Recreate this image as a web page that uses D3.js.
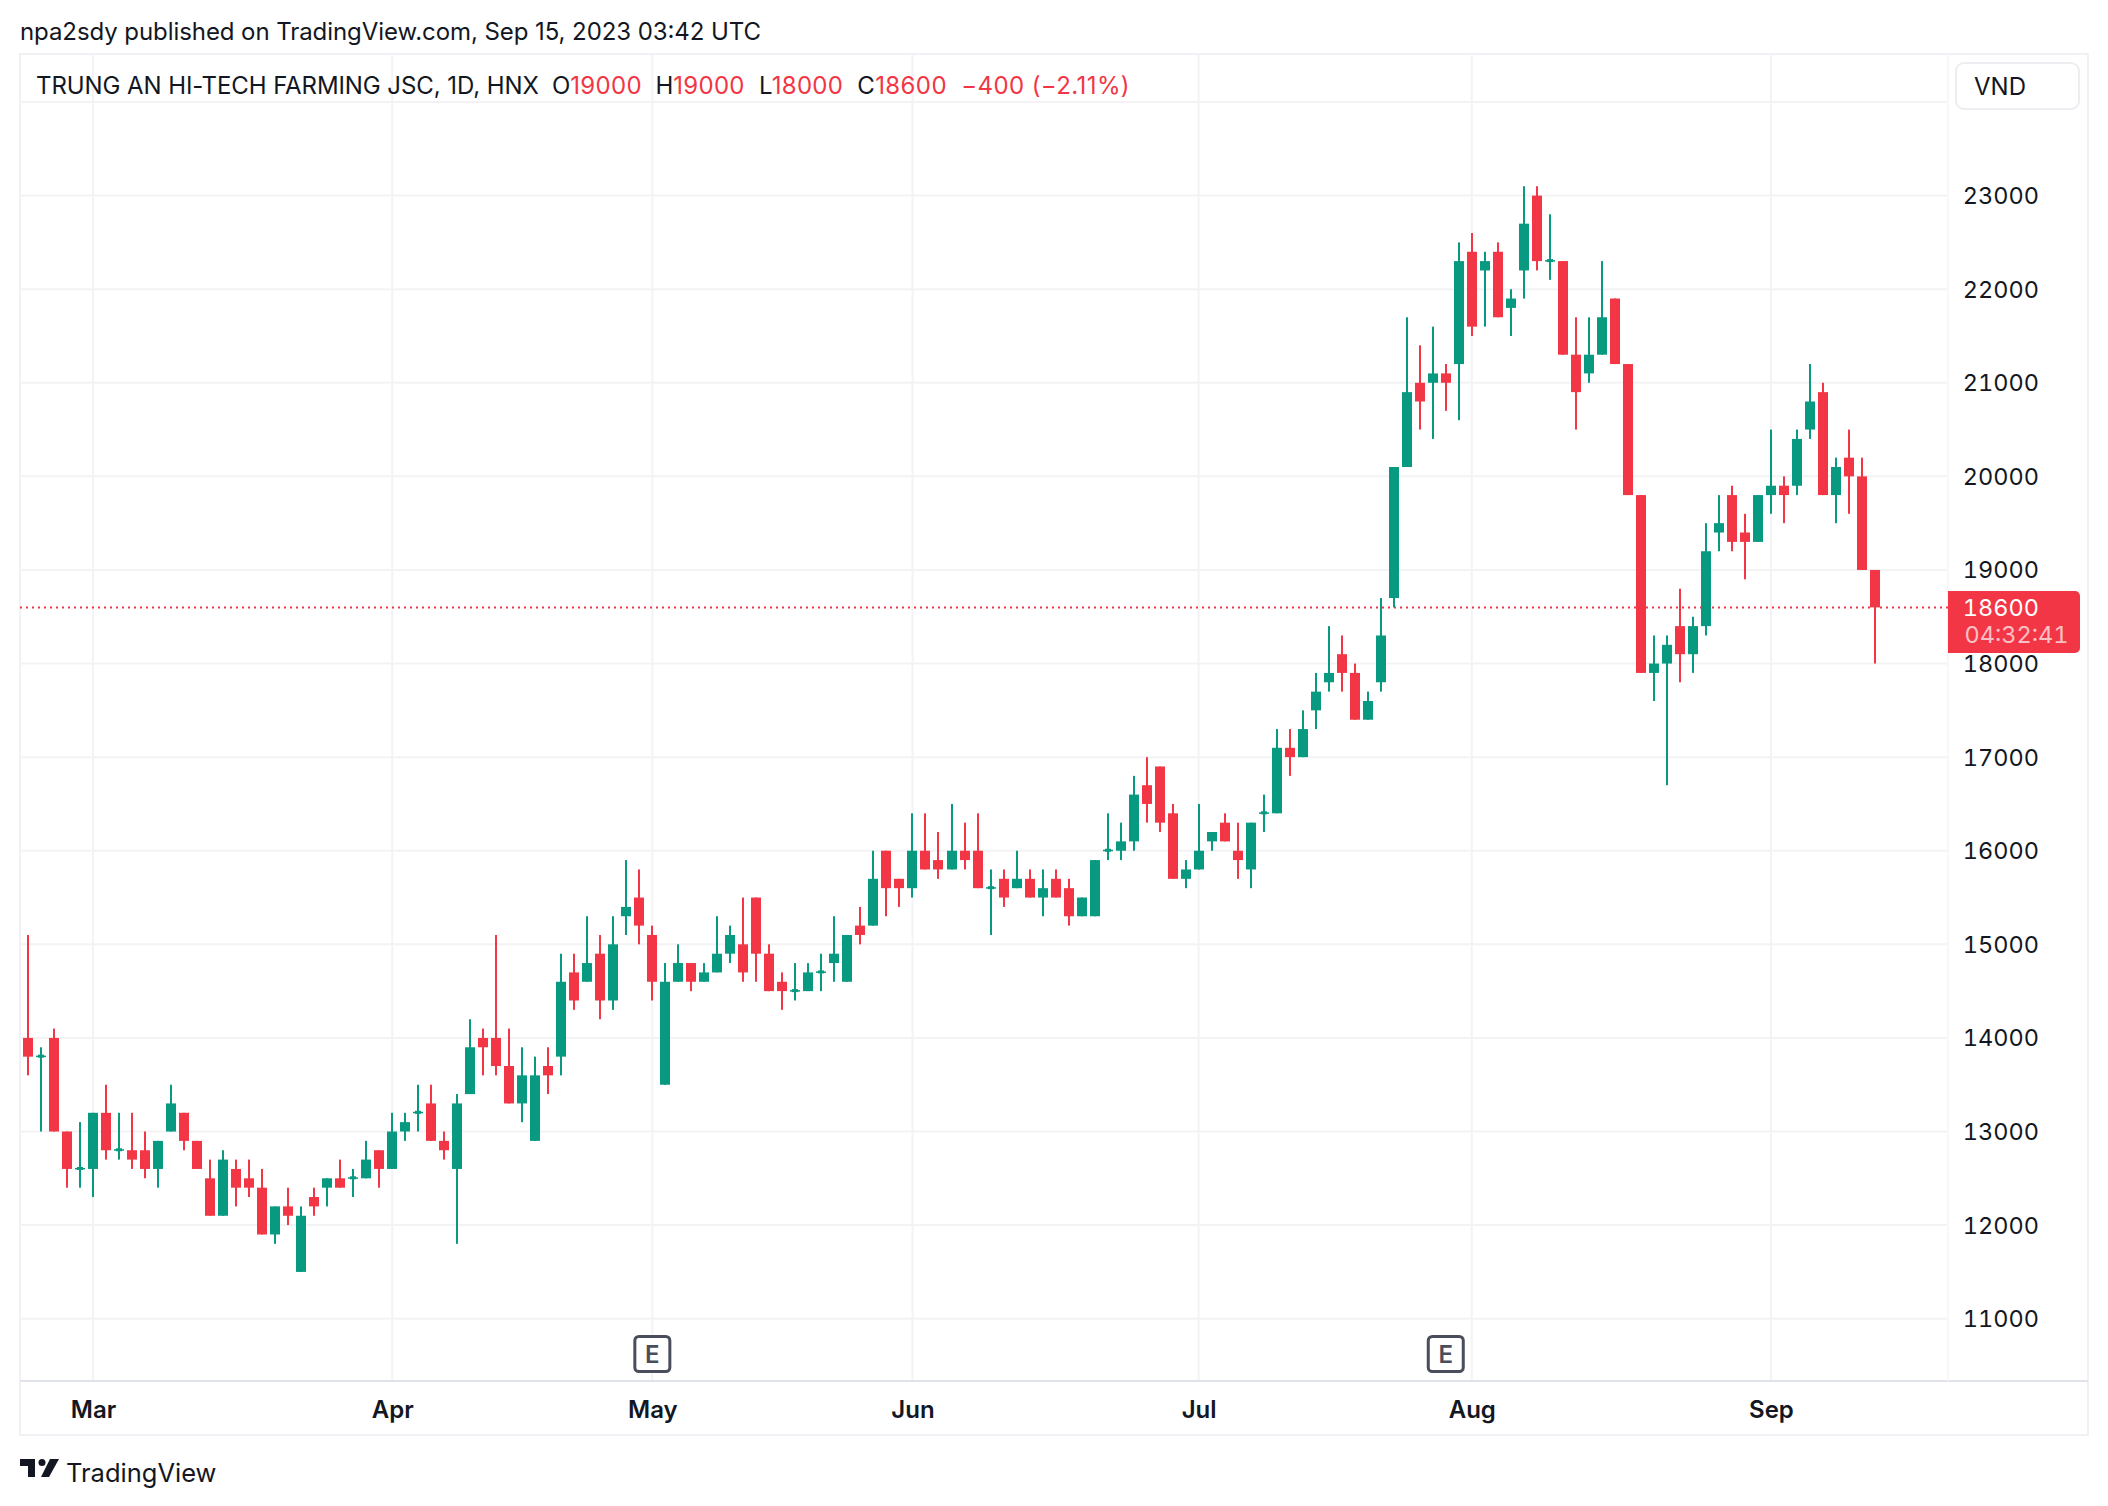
<!DOCTYPE html>
<html>
<head>
<meta charset="utf-8">
<style>
html, body { margin: 0; padding: 0; background: #fff; }
svg { display: block; }
text { font-family: Inter, sans-serif; fill: #131722; }
.grid line { stroke: #f3f3f6; stroke-width: 2px; }
.y-axis text { font-size: 23.5px; text-anchor: end; font-variant-numeric: tabular-nums; }
.x-axis text { font-size: 24px; font-weight: 600; }
.legend { font-size: 24px; }
</style>
</head>
<body>
<script src="https://cdn.jsdelivr.net/npm/d3@7"></script>
<script>
// values, one entry per trading day
var opens = [14000,13800,14000,13000,12600,12600,13200,12800,12800,12800,12600,13000,13200,12900,12500,12100,12600,12500,12400,11900,12200,11500,12300,12400,12500,12500,12500,12800,12600,13000,13200,13300,12900,12600,13400,14000,14000,
  13700,13300,12900,13700,13800,14700,14600,14900,14400,15300,15500,15100,13500,14600,14800,14600,14700,14900,15000,15500,14900,14600,14500,14500,14700,14800,14600,15200,15200,16000,15700,15600,16000,15900,
  15800,16000,16000,15600,15700,15600,15700,15500,15700,15600,15300,15300,16000,16000,16100,16700,16900,16400,15700,15800,16100,16300,16000,15800,16400,16400,17100,17000,17500,17800,18100,17900,17400,17800,
  18700,20100,21000,21000,21100,21200,22400,22200,22400,21800,22200,23000,22300,22300,21300,21100,21300,21900,21200,19800,17900,18000,18400,18100,18400,19400,19800,19400,19300,19800,19900,19900,20500,20900,19800,20200,20000,19000];
var closes = [13800,13800,13000,12600,12600,13200,12800,12800,12700,12600,12900,13300,12900,12600,12100,12700,12400,12400,11900,12200,12100,12100,12200,12500,12400,12500,12700,12600,13000,13100,13200,12900,12800,13300,13900,13900,13700,
  13300,13600,13600,13600,14600,14400,14800,14400,15000,15400,15200,14600,14600,14800,14600,14700,14900,15100,14700,14900,14500,14500,14500,14700,14700,14900,15100,15100,15700,15600,15600,16000,15800,15800,
  16000,15900,15600,15600,15500,15700,15500,15600,15500,15300,15500,15900,16000,16100,16600,16500,16300,15700,15800,16000,16200,16100,15900,16300,16400,17100,17000,17300,17700,17900,17900,17400,17600,18300,
  20100,20900,20800,21100,21000,22300,21600,22300,21700,21900,22700,22300,22300,21300,20900,21300,21700,21200,19800,17900,18000,18200,18100,18400,19200,19500,19300,19300,19800,19900,19800,20400,20800,19800,20100,20000,19000,18600];
var highs = [15100,13900,14100,13000,13100,13200,13500,13200,13200,13000,12900,13500,13200,12900,12700,12800,12700,12700,12600,12200,12400,12200,12400,12500,12700,12600,12900,12800,13200,13200,13500,13500,13000,13400,14200,14100,15100,
  14100,13900,13800,13900,14900,14900,15300,15100,15300,15900,15800,15200,14800,15000,14800,14800,15300,15200,15500,15500,15000,14700,14800,14800,14900,15300,15100,15400,16000,16000,15700,16400,16400,16200,
  16500,16300,16400,15800,15800,16000,15800,15800,15800,15700,15500,15900,16400,16300,16800,17000,16900,16500,15900,16500,16200,16400,16300,16300,16600,17300,17300,17500,17900,18400,18300,18000,17700,18700,
  20100,21700,21400,21600,21200,22500,22600,22400,22500,22000,23100,23100,22800,22300,21700,21700,22300,21900,21200,19800,18300,18300,18800,18500,19500,19800,19900,19600,19800,20500,20000,20500,21200,21000,20200,20500,20200,19000];
var lows = [13600,13000,13000,12400,12400,12300,12700,12700,12600,12500,12400,13000,12800,12600,12100,12100,12200,12300,11900,11800,12000,11500,12100,12200,12400,12300,12500,12400,12600,12900,13000,12900,12700,11800,13400,13600,13600,
  13300,13100,12900,13400,13600,14300,14600,14200,14300,15100,15000,14400,13500,14600,14500,14600,14700,14800,14600,14600,14500,14300,14400,14500,14500,14600,14600,15000,15200,15300,15400,15500,15800,15700,
  15800,15800,15600,15100,15400,15600,15500,15300,15500,15200,15300,15300,15900,15900,16000,16300,16200,15700,15600,15800,16000,16100,15700,15600,16200,16400,16800,17000,17300,17700,17700,17400,17400,17700,
  18600,20100,20500,20400,20700,20600,21500,21600,21700,21500,21900,22200,22100,21300,20500,21000,21300,21200,19800,17900,17600,16700,17800,17900,18300,19200,19200,18900,19300,19600,19500,19800,20400,19800,19500,19600,19000,18000];

var priceTicks = [11000,12000,13000,14000,15000,16000,17000,18000,19000,20000,21000,22000,23000,24000];
var monthIndex = [5,28,48,68,90,111,134];
var monthNames = ["Mar","Apr","May","Jun","Jul","Aug","Sep"];
var earningsIndex = [48,109];

var width = 2108, height = 1506;
var up = "#089981", down = "#f23645";
var paneLeft = 20, paneRight = 1948, paneTop = 54, paneBottom = 1381;
var frameRight = 2088, frameBottom = 1435;
var barWidth = 10;

var x = d3.scaleLinear().domain([0, opens.length - 1]).range([28, 1875]);
var y = d3.scaleLinear().domain([11000, 24000]).range([1318.7, 102]);

var svg = d3.select("body").append("svg")
    .attr("width", width)
    .attr("height", height);

// frame around the chart
svg.append("rect")
    .attr("x", paneLeft).attr("y", paneTop)
    .attr("width", frameRight - paneLeft).attr("height", frameBottom - paneTop)
    .attr("fill", "none").attr("stroke", "#f0f1f5").attr("stroke-width", 2);

// grid
var grid = svg.append("g").attr("class", "grid");
grid.selectAll(".h").data(priceTicks).enter().append("line")
    .attr("x1", paneLeft).attr("x2", paneRight)
    .attr("y1", function(d) { return y(d); })
    .attr("y2", function(d) { return y(d); });
grid.selectAll(".v").data(monthIndex).enter().append("line")
    .attr("y1", paneTop).attr("y2", paneBottom)
    .attr("x1", function(d) { return x(d); })
    .attr("x2", function(d) { return x(d); });

// pane borders
svg.append("line").attr("x1", paneLeft).attr("x2", frameRight).attr("y1", paneBottom).attr("y2", paneBottom)
    .attr("stroke", "#e0e3eb").attr("stroke-width", 2);
svg.append("line").attr("x1", paneRight).attr("x2", paneRight).attr("y1", paneTop).attr("y2", paneBottom)
    .attr("stroke", "#f7f7f9").attr("stroke-width", 2);

// axes
var yAxis = d3.axisRight(y).tickValues(priceTicks.slice(0, 13)).tickSize(0).tickPadding(0).tickFormat(d3.format("d"));
svg.append("g").attr("class", "y-axis").attr("transform", "translate(2039,0.5)").call(yAxis)
    .call(function(g) { g.select(".domain").remove(); });

var xAxis = d3.axisBottom(x).tickValues(monthIndex).tickSize(0).tickPadding(0)
    .tickFormat(function(d, i) { return monthNames[i]; });
svg.append("g").attr("class", "x-axis").attr("transform", "translate(0,1401)").call(xAxis)
    .call(function(g) { g.select(".domain").remove(); });

// last price line
svg.append("line")
    .attr("x1", paneLeft).attr("x2", paneRight)
    .attr("y1", y(closes[closes.length - 1])).attr("y2", y(closes[closes.length - 1]))
    .attr("stroke", down).attr("stroke-width", 2).attr("stroke-dasharray", "2,4");

// candles
var days = d3.range(opens.length);
function colorOf(i) { return closes[i] >= opens[i] ? up : down; }

svg.append("g").selectAll("rect").data(days).enter().append("rect")
    .attr("x", function(i) { return Math.round(x(i)) - 1; })
    .attr("width", 2)
    .attr("y", function(i) { return y(highs[i]); })
    .attr("height", function(i) { return y(lows[i]) - y(highs[i]); })
    .attr("fill", colorOf);

svg.append("g").selectAll("rect").data(days).enter().append("rect")
    .attr("x", function(i) { return Math.round(x(i)) - barWidth / 2; })
    .attr("width", barWidth)
    .attr("y", function(i) { return opens[i] == closes[i] ? y(opens[i]) - 1 : y(Math.max(opens[i], closes[i])); })
    .attr("height", function(i) { return opens[i] == closes[i] ? 1.5 : Math.abs(y(opens[i]) - y(closes[i])); })
    .attr("fill", colorOf);

// thick centre of the doji candles
svg.append("g").selectAll("rect").data(days.filter(function(i) { return opens[i] == closes[i]; })).enter().append("rect")
    .attr("x", function(i) { return Math.round(x(i)) - 3; })
    .attr("width", 6)
    .attr("y", function(i) { return y(opens[i]) - 2; })
    .attr("height", 3)
    .attr("fill", colorOf);

// earnings markers
var marks = svg.append("g").selectAll("g").data(earningsIndex).enter().append("g")
    .attr("transform", function(d) { return "translate(" + x(d) + ",1354)"; });
marks.append("rect")
    .attr("x", -17.5).attr("y", -17.5).attr("width", 35).attr("height", 35).attr("rx", 4)
    .attr("fill", "#fff").attr("stroke", "#4a4e5c").attr("stroke-width", 3);
marks.append("text")
    .attr("text-anchor", "middle").attr("y", 9)
    .style("font-size", "24px").style("font-weight", 600).style("fill", "#4a4e5c")
    .text("E");

// price label
var labelY = 591;
svg.append("path")
    .attr("d", "M1948," + labelY + "H2075a5,5 0 0 1 5,5V648a5,5 0 0 1 -5,5H1948Z")
    .attr("fill", down);
svg.append("text").attr("x", 2039).attr("y", 616).attr("text-anchor", "end").style("font-size", "23.5px").style("font-variant-numeric", "tabular-nums").style("fill", "#fff").text("18600");
svg.append("text").attr("x", 1964.5).attr("y", 643).style("font-size", "23.5px").style("font-variant-numeric", "tabular-nums").style("fill", "#fff").style("fill-opacity", 0.7).text("04:32:41");

// header
svg.append("text").attr("class", "legend").attr("x", 20).attr("y", 40).attr("textLength", 741).text("npa2sdy published on TradingView.com, Sep 15, 2023 03:42 UTC");

var legend = svg.append("text").attr("class", "legend").attr("x", 36).attr("y", 94);
var parts = [["TRUNG AN HI-TECH FARMING JSC, 1D, HNX  O", 0, -0.08], ["19000", 1, 0.3], ["  H", 0, 0], ["19000", 1, 0.3], ["  L", 0, 0.3], ["18000", 1, 0.3], ["  C", 0, 0.3], ["18600", 1, 0.4], ["  \u2212400 (\u22122.11%)", 1, 0.4]];
parts.forEach(function(p) {
  legend.append("tspan").attr("xml:space", "preserve").style("white-space", "pre")
      .style("letter-spacing", p[2] + "px")
      .style("fill", p[1] ? down : "#131722").text(p[0]);
});

// currency button
svg.append("rect").attr("x", 1956).attr("y", 63).attr("width", 123).attr("height", 46).attr("rx", 8)
    .attr("fill", "#fff").attr("stroke", "#eceef2").attr("stroke-width", 2);
svg.append("text").attr("x", 1974).attr("y", 95).style("font-size", "24px").text("VND");

// logo
var logo = svg.append("g").attr("transform", "translate(20,1459)").attr("fill", "#131722");
logo.append("path").attr("d", "M0,0H15V18H8V7H0Z");
logo.append("circle").attr("cx", 22).attr("cy", 3.5).attr("r", 3.5);
logo.append("path").attr("d", "M30,0H39L29,18H21Z");
svg.append("text").attr("x", 66).attr("y", 1482).style("font-size", "25.5px").text("TradingView");
</script>
</body>
</html>
